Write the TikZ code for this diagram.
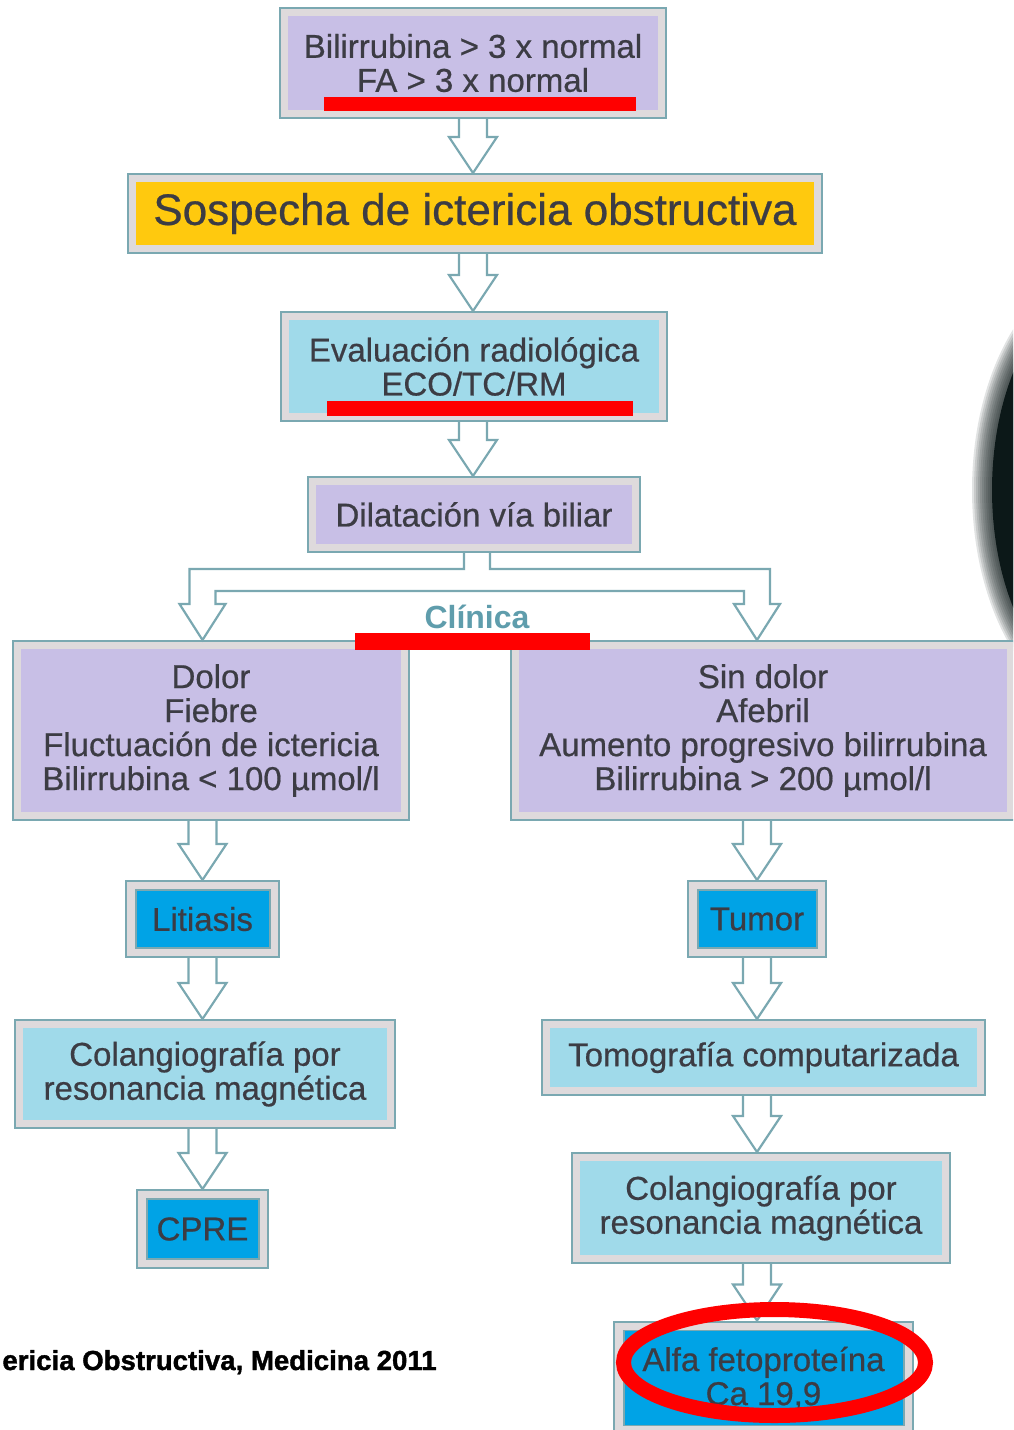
\documentclass[tikz,border=0pt]{standalone}
\usepackage{fontspec}
\setmainfont{Liberation Sans}
\newfontfamily\boxfont[FakeBold=0.6]{Liberation Sans}
\newfontfamily\citefont[BoldFeatures={FakeBold=1.4}]{Liberation Sans}
\usetikzlibrary{calc}
\definecolor{framegrey}{HTML}{DEDADC}
\definecolor{frameteal}{HTML}{7AA8B1}
\definecolor{lavender}{HTML}{C8BFE6}
\definecolor{ayellow}{HTML}{FFC90E}
\definecolor{lightblue}{HTML}{A0DAEA}
\definecolor{cblue}{HTML}{00A3E6}
\definecolor{txtgrey}{HTML}{3C3C44}
\definecolor{clinteal}{HTML}{5F9DAC}
\definecolor{darkblob}{HTML}{0C1818}
\tikzset{
  box/.style={draw=frameteal, line width=1pt, fill=framegrey, inner sep=0pt,
    text=txtgrey, align=center, font=\boxfont\fontsize{16.5}{17}\selectfont,
    path picture={\fill[#1] ($(path picture bounding box.north west)+(4pt,-4pt)$) rectangle ($(path picture bounding box.south east)+(-4pt,4pt)$);}},
  bluebox/.style={draw=frameteal, line width=1pt, fill=framegrey, inner sep=0pt,
    text=txtgrey, align=center, font=\boxfont\fontsize{16.5}{17}\selectfont,
    path picture={\filldraw[fill=cblue, draw=frameteal, line width=0.8pt] ($(path picture bounding box.north west)+(5pt,-4.5pt)$) rectangle ($(path picture bounding box.south east)+(-4.5pt,4.5pt)$);}},
  arrowline/.style={draw=frameteal, line width=1.1pt, fill=white, line join=miter},
  redmark/.style={fill=red},
}
\newcommand{\blockarr}[3]{%
  \draw[arrowline] let \p1=(#2.south -| #1), \p2=(#3.north -| #1) in
    (\x1-7pt,\y1) -- (\x1-7pt,\y2+18pt) -- (\x1-12pt,\y2+18pt) -- (\x1,\y2)
    -- (\x1+12pt,\y2+18pt) -- (\x1+7pt,\y2+18pt) -- (\x1+7pt,\y1);}
\begin{document}
\begin{tikzpicture}[x=0.5pt,y=-0.5pt]
\useasboundingbox (0,0) rectangle (1013,1430);
\begin{scope}
\clip (0,0) rectangle (1013,1430);
% dark blurred shape at right edge
\foreach \i in {20,18,...,2}{
  \fill[darkblob, opacity=0.12] (1112,490) ellipse ({120+\i} and {207+\i});}
\fill[darkblob] (1112,490) ellipse (120 and 207);

% boxes
\node[box=lavender, minimum width=193pt, minimum height=55pt] (top) at (473,63)
  {Bilirrubina > 3 x normal\\FA > 3 x normal};
\node[box=ayellow, minimum width=347pt, minimum height=39.5pt, font=\boxfont\fontsize{22}{24}\selectfont] (sosp) at (475,213.5)
  {Sospecha de ictericia obstructiva};
\node[box=lightblue, minimum width=193pt, minimum height=54.5pt] (eval) at (474,366.5)
  {Evaluación radiológica\\ECO/TC/RM};
\node[box=lavender, minimum width=166pt, minimum height=37.5pt] (dil) at (474,514.5)
  {Dilatación vía biliar};
\node[box=lavender, minimum width=198pt, minimum height=89.5pt] (dolor) at (211,730.5)
  {Dolor\\Fiebre\\Fluctuación de ictericia\\Bilirrubina < 100 µmol/l};
\node[box=lavender, minimum width=252pt, minimum height=89.5pt] (sin) at (763,730.5)
  {Sin dolor\\Afebril\\Aumento progresivo bilirrubina\\Bilirrubina > 200 µmol/l};
\node[bluebox, minimum width=76.5pt, minimum height=38pt] (lit) at (202.5,919) {Litiasis};
\node[box=lightblue, minimum width=190pt, minimum height=54pt] (colL) at (205,1074)
  {Colangiografía por\\resonancia magnética};
\node[bluebox, minimum width=65.5pt, minimum height=39pt] (cpre) at (202.5,1229) {CPRE};
\node[bluebox, minimum width=69pt, minimum height=38pt] (tumor) at (757,919) {Tumor};
\node[box=lightblue, minimum width=221.5pt, minimum height=37.5pt] (tomo) at (763.5,1057.5)
  {Tomografía computarizada};
\node[box=lightblue, minimum width=189pt, minimum height=55pt] (colR) at (761,1208)
  {Colangiografía por\\resonancia magnética};
\node[bluebox, minimum width=149.5pt, minimum height=56.5pt] (alfa) at (763.5,1378)
  {Alfa fetoproteína\\Ca 19,9};

% arrows
\blockarr{top}{top}{sosp}
\blockarr{top}{sosp}{eval}
\blockarr{top}{eval}{dil}
\blockarr{lit}{dolor}{lit}
\blockarr{lit}{lit}{colL}
\blockarr{lit}{colL}{cpre}
\blockarr{tumor}{sin}{tumor}
\blockarr{tumor}{tumor}{tomo}
\blockarr{tumor}{tomo}{colR}
\blockarr{tumor}{colR}{alfa}
\draw[arrowline] let \p1=(dil.south), \p2=(dolor.north -| lit), \p3=(sin.north -| tumor) in
  (\x1-5pt,\y1) -- (\x1-5pt,\y1-8pt) -- (\x2-6.5pt,\y1-8pt) -- (\x2-6.5pt,\y2+18pt)
  -- (\x2-11.5pt,\y2+18pt) -- (\x2,\y2) -- (\x2+11.5pt,\y2+18pt) -- (\x2+6.5pt,\y2+18pt)
  -- (\x2+6.5pt,\y1-19pt) -- (\x3-6.5pt,\y1-19pt) -- (\x3-6.5pt,\y3+18pt)
  -- (\x3-11.5pt,\y3+18pt) -- (\x3,\y3) -- (\x3+11.5pt,\y3+18pt) -- (\x3+6.5pt,\y3+18pt)
  -- (\x3+6.5pt,\y1-8pt) -- (\x1+8pt,\y1-8pt) -- (\x1+8pt,\y1);

\node[text=clinteal, font=\bfseries\fontsize{16}{18}\selectfont, inner sep=0pt] (clin) at (477,617) {Clínica};

% red annotations
\fill[redmark] (324,97) rectangle (636,111);
\fill[redmark] (327,401) rectangle (633,416);
\fill[redmark] (355,633) rectangle (590,650);
\draw[red, line width=7.5pt] (774.5,1362.5) ellipse (151 and 53);

% citation
\node[anchor=base east, inner sep=0pt, font=\citefont\bfseries\fontsize{13.8}{16}\selectfont] (cite) at (437,1370)
  {ericia Obstructiva, Medicina 2011};
\end{scope}
\end{tikzpicture}
\end{document}
